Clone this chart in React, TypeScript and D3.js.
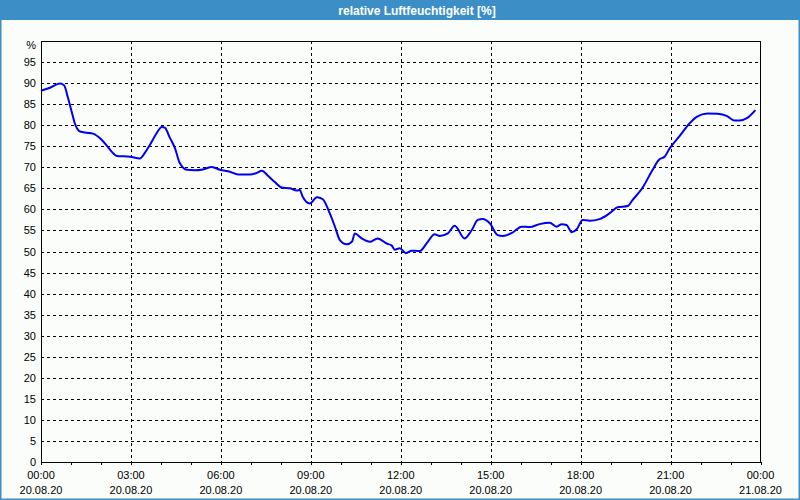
import React from "react";
import * as d3 from "d3";

const hours = [0,0.3,0.63,0.77,0.9,1.03,1.13,1.3,1.53,1.73,1.97,2.2,2.37,2.53,2.97,3.3,3.47,3.63,3.83,4.03,4.13,4.3,4.47,4.63,4.87,5.13,5.4,5.7,5.97,6.3,6.57,6.97,7.17,7.37,7.57,7.8,8.03,8.3,8.53,8.63,8.73,8.97,9.2,9.4,9.63,9.8,9.97,10.2,10.37,10.47,10.7,10.97,11.23,11.53,11.7,11.8,11.97,12.17,12.37,12.63,12.9,13.13,13.3,13.57,13.8,14.13,14.37,14.57,14.73,14.97,15.23,15.4,15.73,16.03,16.3,16.63,16.97,17.2,17.37,17.53,17.7,17.87,18.07,18.3,18.63,18.97,19.23,19.57,19.73,20.07,20.37,20.63,20.8,20.97,21.3,21.63,21.87,22.23,22.57,22.87,23.13,23.3,23.53,23.83];
const humidity = [88.2,88.9,89.9,89.5,86.5,83,80.4,78.5,78.2,78.0,76.9,75.1,73.6,72.7,72.5,72.1,73.5,75.3,77.8,79.6,79.4,77,74.5,71.0,69.4,69.3,69.5,70.1,69.4,68.95,68.3,68.3,68.6,69.2,68,66.5,65.2,65,64.5,64.6,63,61.4,62.9,62.4,59.1,56,52.7,51.7,52.3,54.3,53.1,52.3,53.1,51.9,51.4,50.4,50.8,49.6,50.2,50.1,52.3,54.1,53.7,54.3,56.1,53.1,55.1,57.5,57.7,56.7,53.9,53.7,54.5,55.9,55.8,56.5,56.8,55.9,56.5,56.3,54.6,55.3,57.5,57.3,57.7,59.1,60.5,60.8,62.2,65.2,69.0,71.9,72.5,74.5,77.4,80.4,82.0,82.8,82.7,82.2,81.1,81.1,81.6,83.6];

const xTickHours = [0,3,6,9,12,15,18,21,24];
const xTickTimes = ["00:00","03:00","06:00","09:00","12:00","15:00","18:00","21:00","00:00"];
const xTickDates = ["20.08.20","20.08.20","20.08.20","20.08.20","20.08.20","20.08.20","20.08.20","20.08.20","21.08.20"];
const yTicks = d3.range(0, 100, 5);
const title = "relative Luftfeuchtigkeit [%]";
const unit = "%";

export default function App() {
  const W = 800, H = 500;
  const left = 41, right = 760.5, top = 41, bottom = 462;
  const x = d3.scaleLinear().domain([0, 24]).range([left, right]);
  const y = d3.scaleLinear().domain([0, 100]).range([bottom, top]);
  const line = d3.line<number>().x((_, i) => x(hours[i])).y((d) => y(d)).curve(d3.curveMonotoneX);
  const font = "'Liberation Sans', Arial, sans-serif";
  const minor = d3.range(0, 25, 1);
  return (
    <div style={{ position: "absolute", left: 0, top: 0 }}>
      <svg width={W} height={H} style={{ display: "block" }}>
        <rect x={0} y={0} width={W} height={H} fill="#fbfdfb" />
        <rect x={0.5} y={0.5} width={W - 1} height={H - 1} fill="none" stroke="#3c8fc6" strokeWidth={2} />
        <rect x={0} y={0} width={W} height={20} fill="#3c8fc6" />
        <text x={417} y={14.5} textAnchor="middle" fill="#fff" fontFamily={font} fontWeight="bold" fontSize={12}>{title}</text>
        {yTicks.filter((t) => t > 0).map((t) => (
          <line key={"gy" + t} x1={left} x2={right} y1={Math.round(y(t)) + 0.5} y2={Math.round(y(t)) + 0.5} stroke="#000" strokeDasharray="3,3" shapeRendering="crispEdges" />
        ))}
        {xTickHours.slice(1, -1).map((h) => (
          <line key={"gx" + h} x1={Math.round(x(h)) + 0.5} x2={Math.round(x(h)) + 0.5} y1={top} y2={bottom} stroke="#000" strokeDasharray="3,3" shapeRendering="crispEdges" />
        ))}
        {minor.map((h) => (
          <line key={"mt" + h} x1={Math.round(x(h)) + 0.5} x2={Math.round(x(h)) + 0.5} y1={bottom} y2={bottom + 3} stroke="#000" shapeRendering="crispEdges" />
        ))}
        <rect x={left + 0.5} y={top + 0.5} width={right - left - 0.5} height={bottom - top} fill="none" stroke="#000" strokeWidth={1} shapeRendering="crispEdges" />
        {yTicks.map((t) => (
          <text key={"yl" + t} x={36} y={y(t) + 4} textAnchor="end" fontFamily={font} fontSize={11} fill="#000">{t}</text>
        ))}
        <text x={36} y={y(100) + 8} textAnchor="end" fontFamily={font} fontSize={11} fill="#000">{unit}</text>
        {xTickHours.map((h, i) => (
          <g key={"xl" + i}>
            <text x={x(h)} y={479} textAnchor="middle" fontFamily={font} fontSize={11} fill="#000">{xTickTimes[i]}</text>
            <text x={x(h)} y={494} textAnchor="middle" fontFamily={font} fontSize={11} fill="#000">{xTickDates[i]}</text>
          </g>
        ))}
        <path d={line(humidity) || ""} fill="none" stroke="#0000f0" strokeWidth={2} strokeLinejoin="round" />
      </svg>
    </div>
  );
}
